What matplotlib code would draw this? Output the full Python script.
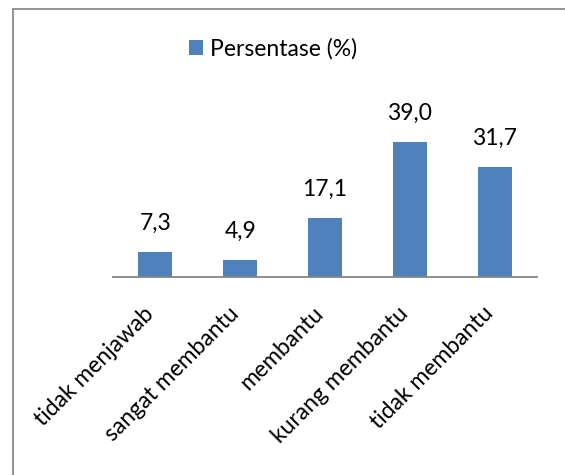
import matplotlib.pyplot as plt
from matplotlib.patches import Rectangle
from matplotlib.transforms import ScaledTranslation
import numpy as np

categories = ['tidak menjawab', 'sangat membantu', 'membantu',
              'kurang membantu', 'tidak membantu']
persentase = [7.3, 4.9, 17.1, 39.0, 31.7]
series_name = 'Persentase (%)'

plt.rcParams['font.family'] = ['Lato', 'DejaVu Sans']

fig = plt.figure(figsize=(5.65, 4.75), dpi=100)
fig.patch.set_facecolor('white')

# chart frame (only top and left edges fall inside the image)
fig.add_artist(Rectangle((12.5 / 565, -0.1), 1.2, 1 - 8.5 / 475 + 0.1,
                         transform=fig.transFigure, fill=False,
                         edgecolor='#898989', linewidth=1.3))

ax = fig.add_axes([113 / 565, 1 - 277 / 475, 424 / 565, 156 / 475])
x = np.arange(len(categories))
bars = ax.bar(x, persentase, width=0.4, color='#4F81BD', label=series_name)
ax.set_xlim(-0.5, len(categories) - 0.5)
ax.set_ylim(0, 45)

for rect, val in zip(bars, persentase):
    ax.annotate(f'{val:.1f}'.replace('.', ','),
                (rect.get_x() + rect.get_width() / 2, val),
                xytext=(0, 13), textcoords='offset points',
                ha='center', va='bottom', fontsize=16.5, color='black')

for side in ['top', 'right', 'left']:
    ax.spines[side].set_visible(False)
ax.spines['bottom'].set_color('#868686')
ax.spines['bottom'].set_linewidth(1.3)
ax.set_yticks([])
ax.set_xticks(x)
ax.set_xticklabels(categories, rotation=45, ha='right', va='center',
                   rotation_mode='anchor', fontsize=16.5)
ax.tick_params(axis='x', length=0, pad=24)
nudge = ScaledTranslation(-5 / 100, 0, fig.dpi_scale_trans)
for lbl in ax.get_xticklabels():
    lbl.set_transform(lbl.get_transform() + nudge)

fig.legend(handles=[bars], labels=[series_name], loc='center',
           bbox_to_anchor=(273 / 565, 1 - 49 / 475), frameon=False,
           fontsize=16.5, handlelength=0.6, handleheight=0.6,
           handletextpad=0.3)

fig.savefig('out.png', dpi=100)
